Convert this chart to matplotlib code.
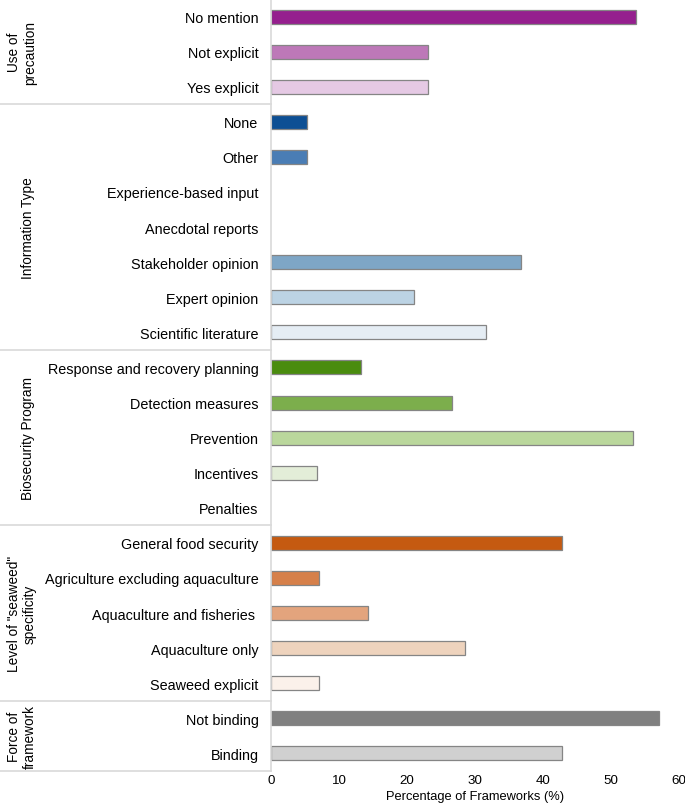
import numpy as np
import matplotlib
matplotlib.use("Agg")
import matplotlib.pyplot as plt

plt.rcParams['font.family'] = ['Liberation Sans', 'DejaVu Sans']

# categories, top to bottom
labels = ['No mention', 'Not explicit', 'Yes explicit',
          'None', 'Other', 'Experience-based input', 'Anecdotal reports',
          'Stakeholder opinion', 'Expert opinion', 'Scientific literature',
          'Response and recovery planning', 'Detection measures', 'Prevention',
          'Incentives', 'Penalties',
          'General food security', 'Agriculture excluding aquaculture',
          'Aquaculture and fisheries ', 'Aquaculture only', 'Seaweed explicit',
          'Not binding', 'Binding']
values = [53.8, 23.1, 23.1,
          5.3, 5.3, 0, 0, 36.8, 21.1, 31.6,
          13.3, 26.7, 53.3, 6.7, 0,
          42.9, 7.1, 14.3, 28.6, 7.1,
          57.1, 42.9]
colors = ['#951f8e', '#bd78b8', '#e5c9e4',
          '#0d4f94', '#4a7db5', '#ffffff', '#ffffff', '#7ea6c6', '#bcd3e4', '#e5edf4',
          '#4a8c0e', '#7cae4c', '#bad79c', '#e3edd8', '#ffffff',
          '#c55a11', '#d6804a', '#e3a47d', '#eed3bd', '#fbf1ea',
          '#808080', '#d0d0d0']
groups = ['Use of\nprecaution', 'Information Type', 'Biosecurity Program',
          'Level of "seaweed"\nspecificity', 'Force of\nframework']
group_sizes = [3, 7, 5, 5, 2]

n = len(labels)
y = np.arange(n)

fig = plt.figure(figsize=(6.85, 8.12), dpi=100)
W, H = 685, 812
top, bot = 0, 772
x0, x1 = 271, 678.5
ax = fig.add_axes([x0 / W, (H - bot) / H, (x1 - x0) / W, (bot - top) / H])
ax0 = fig.add_axes([0, (H - bot) / H, x0 / W, (bot - top) / H])

for i in range(n):
    if values[i] > 0:
        ax.barh(y[i], values[i], height=0.4, color=colors[i],
                edgecolor='#858585', linewidth=0.9)

ax.set_ylim(n - 0.5, -0.5)
ax.set_xlim(0, 60)
ax.set_yticks(y)
ax.set_yticklabels(labels, fontsize=10.4)
ax.tick_params(axis='y', length=0, pad=9)
ax.tick_params(axis='x', length=0, labelsize=9.6, pad=2)
ax.set_xticks([0, 10, 20, 30, 40, 50, 60])
ax.set_xlabel('Percentage of Frameworks (%)', fontsize=9.3, labelpad=3)
for s in ['top', 'right', 'bottom']:
    ax.spines[s].set_visible(False)
ax.spines['left'].set_color('#d9d9d9')
ax.spines['left'].set_linewidth(1.2)

# group panel on the left
ax0.set_ylim(n - 0.5, -0.5)
ax0.set_xlim(0, 1)
ax0.axis('off')
start = 0
bounds = [-0.5]
for g, size in zip(groups, group_sizes):
    mid = start + (size - 1) / 2
    xpos = 0.08 if '\n' in g else 0.105
    ax0.text(xpos, mid, g, rotation=90, ha='center', va='center',
             fontsize=9.8, linespacing=1.2)
    start += size
    bounds.append(start - 0.5)
for b in bounds:
    ax0.axhline(b, color='#d9d9d9', linewidth=1.2, clip_on=False)

fig.savefig('out.png', dpi=100)
